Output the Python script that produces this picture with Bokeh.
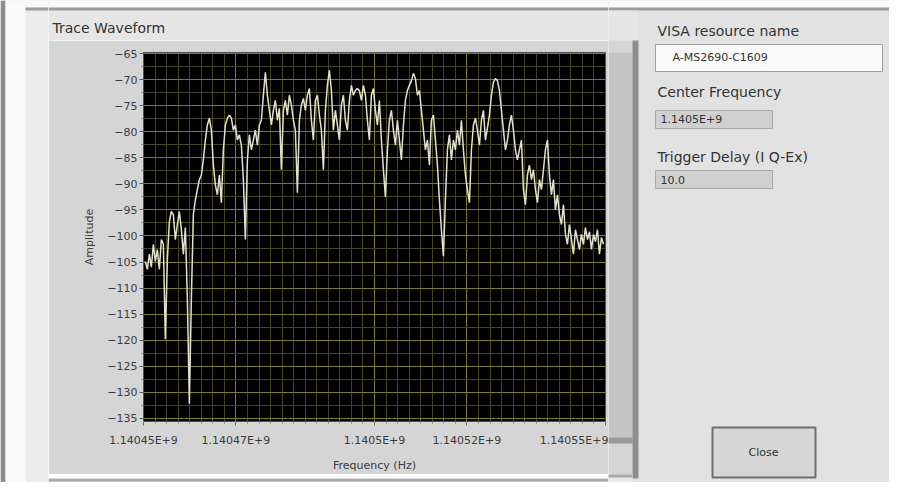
import numpy as np
from bokeh.plotting import figure
from bokeh.models import Range1d, FixedTicker
from bokeh.layouts import row, column
from bokeh.core.properties import value
from bokeh.embed import file_html
from bokeh.resources import INLINE

# ---------------- data ----------------
F_START = 1.1404504e9      # first trace point (Hz)
F_STEP = 433.0             # spacing of trace points (Hz)
AMPLITUDE_DB = [
    -104.9, -106.4, -103.5, -106.0, -101.6, -104.9, -102.6, -106.4, -100.7, -101.6,
    -119.8, -104.5, -97.3, -95.3, -95.9, -100.7, -97.8, -95.3, -98.8, -103.5,
    -98.4, -112.1, -132.2, -112.1, -95.9, -93.1, -91.1, -89.2, -88.3, -85.4,
    -81.6, -78.7, -77.4, -79.7, -86.4, -90.2, -92.1, -88.3, -93.6, -83.5,
    -78.7, -77.4, -76.8, -77.4, -79.7, -78.7, -81.6, -80.6, -82.6, -89.2,
    -100.7, -85.4, -80.6, -83.5, -81.6, -79.7, -82.6, -78.7, -77.8, -73.0,
    -68.6, -73.0, -75.9, -78.7, -75.9, -74.0, -77.8, -75.5, -87.3, -75.9,
    -74.0, -76.8, -73.0, -74.9, -77.8, -79.7, -91.7, -77.8, -74.9, -73.6,
    -75.9, -73.0, -71.7, -77.8, -81.6, -74.0, -73.0, -76.8, -79.7, -87.3,
    -75.9, -71.1, -68.2, -72.1, -79.7, -75.9, -78.7, -81.6, -74.9, -73.0,
    -77.8, -79.7, -74.0, -71.1, -73.0, -72.1, -71.7, -72.1, -74.0, -71.1,
    -73.0, -77.8, -81.6, -73.0, -71.7, -75.9, -78.7, -74.0, -81.6, -87.3,
    -92.5, -83.5, -77.8, -75.9, -79.7, -82.6, -77.8, -81.6, -85.4, -78.7,
    -74.0, -72.1, -71.1, -70.2, -68.8, -69.8, -73.0, -72.1, -75.9, -79.7,
    -83.5, -81.6, -86.4, -77.8, -76.8, -81.6, -86.4, -93.1, -98.8, -103.9,
    -93.1, -83.5, -80.6, -85.4, -81.6, -83.5, -79.7, -82.6, -77.8, -83.5,
    -88.3, -91.1, -93.6, -83.5, -78.7, -77.4, -79.7, -82.6, -77.8, -75.9,
    -81.6, -79.3, -76.8, -73.0, -70.5, -69.8, -70.2, -72.1, -75.9, -79.7,
    -83.5, -81.6, -78.7, -76.8, -79.7, -83.5, -85.4, -83.5, -81.6, -91.1,
    -94.0, -88.3, -86.4, -89.2, -87.3, -91.1, -93.6, -89.2, -91.1, -87.3,
    -83.5, -81.6, -88.3, -92.1, -89.2, -95.0, -92.1, -95.9, -97.8, -94.0,
    -99.7, -101.6, -97.8, -100.7, -103.5, -98.8, -100.7, -102.6, -99.7, -101.6,
    -98.4, -100.7, -99.2, -102.6, -99.7, -101.1, -98.8, -103.5, -100.3, -101.6,
]
FREQ_HZ = F_START + F_STEP * np.arange(len(AMPLITUDE_DB))

X_RANGE = (1.14045e9, 1.14055e9)
Y_RANGE = (-135.6, -64.8)
X_TICKS = [1140450000, 1140470000, 1140500000, 1140520000, 1140550000]
X_TICK_LABELS = ["1.14045E+9", "1.14047E+9", "1.1405E+9", "1.14052E+9", "1.14055E+9"]
Y_TICKS = [-135, -130, -125, -120, -115, -110, -105, -100, -95, -90, -85, -80, -75, -70, -65]

TITLE = "Trace Waveform"
X_LABEL = "Frequency (Hz)"
Y_LABEL = "Amplitude"
VISA_LABEL = "VISA resource name"
VISA_VALUE = "A-MS2690-C1609"
CF_LABEL = "Center Frequency"
CF_VALUE = "1.1405E+9"
TD_LABEL = "Trigger Delay (I Q-Ex)"
TD_VALUE = "10.0"
BUTTON_TEXT = "Close"

FONT = "DejaVu Sans"
PANEL_BG = "#e2e2e2"
FRAME_BG = "#d5d5d5"
TITLE_BG = "#e6e6e6"
BOTTOM_BG = "#e8e8e8"
EDGE = "#9c9c9c"
WHITE = "#fafafa"


def filler(w, h, bg):
    f = figure(width=w, height=h, output_backend="svg", toolbar_location=None,
               title=None, x_range=Range1d(0, w), y_range=Range1d(h, 0),
               x_axis_type=None, y_axis_type=None, min_border=0,
               background_fill_color=bg, border_fill_color=bg)
    f.outline_line_color = None
    return f


def rect(f, x0, y0, x1, y1, fill, line=None, lw=1):
    f.quad(left=[x0], right=[x1], top=[y0], bottom=[y1],
           fill_color=fill, line_color=line, line_width=lw)


def label(f, x, y, s, size="14px", align="left", color="#333333"):
    f.text(x=[x], y=[y], text=[s], text_font=value(FONT),
           text_font_size=value(size), text_color=color,
           text_align=align, text_baseline="middle")


H = 482

# ---------------- left strip (x 0..48) ----------------
L = filler(48, H, "#ececec")
rect(L, 0, 0, 5, H, "#8c8c8c")
rect(L, 5, 0, 25, H, WHITE)
rect(L, 25, 0, 48, 7, WHITE)
rect(L, 25, 7, 48, 10, EDGE)

# ---------------- title strip above graph (x 48..608, y 0..40) ----------------
T = filler(560, 40, TITLE_BG)
rect(T, 0, 0, 560, 7, WHITE)
rect(T, 0, 7, 560, 10, EDGE)
label(T, 4, 27, TITLE)

# ---------------- chart (x 48..608, y 40..474) ----------------
C = figure(width=560, height=434, output_backend="svg", toolbar_location=None,
           title=None, x_range=Range1d(*X_RANGE), y_range=Range1d(*Y_RANGE),
           min_border_left=95, min_border_right=3, min_border_top=12, min_border_bottom=51,
           background_fill_color="#000000", border_fill_color=FRAME_BG)
C.outline_line_color = "#505050"

minor_x = list(np.arange(X_RANGE[0], X_RANGE[1] + 1, 2500.0))
minor_y = [t + 2.5 for t in Y_TICKS[:-1]]
C.xaxis.ticker = FixedTicker(ticks=X_TICKS, minor_ticks=minor_x)
C.xaxis.major_label_overrides = dict(zip(X_TICKS, X_TICK_LABELS))
C.yaxis.ticker = FixedTicker(ticks=Y_TICKS, minor_ticks=minor_y)

for ax in (C.xaxis[0], C.yaxis[0]):
    ax.axis_line_color = None
    ax.major_tick_line_color = "#606060"
    ax.major_tick_out = 4
    ax.major_tick_in = 0
    ax.minor_tick_line_color = "#808080"
    ax.minor_tick_out = 2
    ax.minor_tick_in = 0
    ax.major_label_text_font = FONT
    ax.major_label_text_font_size = "11px"
    ax.major_label_text_color = "#3c3c3c"
    ax.axis_label_text_font = FONT
    ax.axis_label_text_font_size = "11px"
    ax.axis_label_text_font_style = "normal"
    ax.axis_label_text_color = "#3c3c3c"

C.xaxis.axis_label = X_LABEL
C.yaxis.axis_label = Y_LABEL
C.xaxis.major_label_standoff = 8
C.xaxis.axis_label_standoff = 9
C.yaxis.major_label_standoff = 2
C.yaxis.axis_label_standoff = 8

for g in (C.xgrid[0], C.ygrid[0]):
    g.grid_line_color = "#7c7c30"
    g.grid_line_alpha = 1.0
    g.minor_grid_line_color = "#45451a"
    g.minor_grid_line_alpha = 1.0

C.line(FREQ_HZ, AMPLITUDE_DB, line_color="#e2e2cc", line_width=1.5)

# ---------------- strip below graph (x 48..608, y 474..482) ----------------
B = filler(560, 8, BOTTOM_BG)
rect(B, 0, 0, 560, 3, "#a8a8a8")

# ---------------- right part (x 608..889): graph edge + control panel ----------------
D = filler(281, H, PANEL_BG)
rect(D, 0, 0, 281, 7, WHITE)
rect(D, 0, 7, 281, 10, EDGE)
rect(D, 0, 10, 30, 40, TITLE_BG)
rect(D, 0, 40, 24, 474, FRAME_BG)
rect(D, 0, 52, 24, 437, "#c4c4c4")
rect(D, 0, 437, 24, 443, "#9a9a9a")
rect(D, 24, 40, 30, 478, "#8e8e8e")
rect(D, 0, 474, 24, H, BOTTOM_BG)
rect(D, 0, 474, 24, 477, "#a8a8a8")

label(D, 49, 30, VISA_LABEL)
rect(D, 47, 44, 274, 71, WHITE, "#a0a0a0")
label(D, 64, 57, VISA_VALUE, size="11px")
label(D, 49, 91, CF_LABEL)
rect(D, 47, 110, 164, 128, "#d0d0d0", "#a8a8a8")
label(D, 52, 119, CF_VALUE, size="11px")
label(D, 49, 156, TD_LABEL)
rect(D, 47, 170, 164, 188, "#d0d0d0", "#a8a8a8")
label(D, 52, 179, TD_VALUE, size="11px")
rect(D, 104, 427, 207, 477, "#d6d6d6", "#6e6e6e", lw=2)
label(D, 155, 452, BUTTON_TEXT, size="11px", align="center")

layout = row(L, column(T, column(C), B), D)
open("out.html", "w").write(file_html(layout, INLINE))
